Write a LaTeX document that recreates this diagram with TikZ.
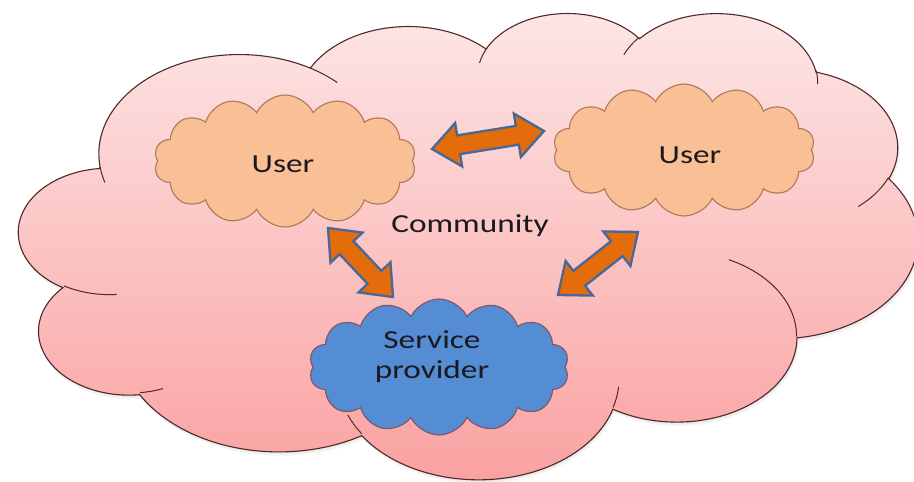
\documentclass[tikz,border=0pt]{standalone}
\usepackage{fontspec}
\setmainfont{Carlito}
\usetikzlibrary{shapes.symbols,calc}
\definecolor{pinktop}{RGB}{253,231,231}
\definecolor{pinkbot}{RGB}{250,160,160}
\definecolor{cloudline}{RGB}{80,40,40}
\definecolor{peach}{RGB}{249,191,149}
\definecolor{peachline}{RGB}{176,120,90}
\definecolor{spblue}{RGB}{84,141,212}
\definecolor{spline}{RGB}{125,85,102}
\definecolor{arrowfill}{RGB}{228,108,10}
\definecolor{arrowline}{RGB}{70,104,154}
\definecolor{txt}{RGB}{26,26,30}
% convert a visual (OOXML) angle to a parametric ellipse angle
\newcommand\ooang[4]{%
  \pgfmathsetmacro\ootmp{atan2((#2)*sin(#4),(#3)*cos(#4))-(#4)}%
  \pgfmathsetmacro\ootmp{\ootmp-360*round(\ootmp/360)}%
  \pgfmathsetmacro#1{(#4)+\ootmp}%
}
\newcommand\oodef[5]{%
  \ooang{\ooS}{#2}{#3}{#4}%
  \expandafter\global\expandafter\let\csname oo#1s\endcsname\ooS
  \ooang{\ooE}{#2}{#3}{(#4)+(#5)}%
  \expandafter\global\expandafter\let\csname oo#1e\endcsname\ooE
}
\oodef{A}{67.53}{91.90}{-190.48748}{123.78053}
\oodef{B}{53.33}{72.67}{-144.10238}{89.94523}
\oodef{C}{43.65}{59.45}{-145.80792}{99.72302}
\oodef{D}{48.57}{65.95}{-130.98607}{117.24173}
\oodef{E}{53.33}{72.73}{-78.70888}{109.02692}
\oodef{F}{67.75}{92.20}{-46.26725}{130.269}
\oodef{G}{57.85}{78.67}{0.62502}{114.03333}
\oodef{H}{67.52}{92.15}{22.4516}{115.17255}
\oodef{I}{77.20}{105.43}{66.24263}{75.71102}
\oodef{J}{43.60}{59.18}{-274.94208}{146.73557}
\oodef{K}{43.45}{59.45}{-246.8285}{152.51885}
\oodef{a}{43.45}{59.45}{86.742}{26.4295}
\oodef{b}{43.60}{59.18}{73.61047}{11.44747}
\oodef{c}{67.52}{92.15}{137.62415}{14.0811}
\oodef{d}{67.52}{92.15}{6.45327}{15.99835}
\oodef{e}{57.85}{78.67}{-70.29235}{70.91737}
\oodef{f}{53.33}{72.73}{30.31803}{27.7515}
\oodef{g}{48.57}{65.95}{-13.74433}{14.8589}
\oodef{h}{48.57}{65.95}{-149.18145}{18.19537}
\oodef{i}{43.65}{59.45}{-163.49427}{17.68635}
\oodef{j}{67.53}{91.90}{-66.70695}{12.31935}
\oodef{k}{67.53}{91.90}{157.65435}{11.85817}
\newcommand\ooarc[3]{arc[start angle=\csname oo#1s\endcsname, end angle=\csname oo#1e\endcsname, x radius=#2, y radius=#3]}
\def\bigcloudpath{(39.00,143.70)
  arc[start angle=\ooAs, end angle=\ooAe, x radius=67.53, y radius=91.90]
  arc[start angle=\ooBs, end angle=\ooBe, x radius=53.33, y radius=72.67]
  arc[start angle=\ooCs, end angle=\ooCe, x radius=43.65, y radius=59.45]
  arc[start angle=\ooDs, end angle=\ooDe, x radius=48.57, y radius=65.95]
  arc[start angle=\ooEs, end angle=\ooEe, x radius=53.33, y radius=72.73]
  arc[start angle=\ooFs, end angle=\ooFe, x radius=67.75, y radius=92.20]
  arc[start angle=\ooGs, end angle=\ooGe, x radius=57.85, y radius=78.67]
  arc[start angle=\ooHs, end angle=\ooHe, x radius=67.52, y radius=92.15]
  arc[start angle=\ooIs, end angle=\ooIe, x radius=77.20, y radius=105.43]
  arc[start angle=\ooJs, end angle=\ooJe, x radius=43.60, y radius=59.18]
  arc[start angle=\ooKs, end angle=\ooKe, x radius=43.45, y radius=59.45] -- cycle}
\def\ahl{27pt}
\def\ahw{22pt}
\def\asw{9.5pt}
\newcommand\blockarrow[2]{%
  \draw[blockarrow] (#1)
    -- ($(#1)!\ahl!(#2)!\ahw!90:(#2)$) -- ($(#1)!\ahl!(#2)!\asw!90:(#2)$)
    -- ($(#2)!\ahl!(#1)!\asw!-90:(#1)$) -- ($(#2)!\ahl!(#1)!\ahw!-90:(#1)$)
    -- (#2)
    -- ($(#2)!\ahl!(#1)!\ahw!90:(#1)$) -- ($(#2)!\ahl!(#1)!\asw!90:(#1)$)
    -- ($(#1)!\ahl!(#2)!\asw!-90:(#2)$) -- ($(#1)!\ahl!(#2)!\ahw!-90:(#2)$)
    -- cycle;}
\begin{document}
\begin{tikzpicture}[x=1pt,y=-1pt,
  community/.style={top color=pinktop, bottom color=pinkbot, draw=cloudline, line width=1.1pt},
  cloudshadow/.style={fill=black, opacity=0.035},
  innerarc/.style={draw=cloudline, line width=1.0pt},
  smallcloud/.style={cloud, cloud puffs=14, cloud puff arc=128, cloud ignores aspect, inner sep=0pt, line width=1.1pt},
  usercloud/.style={smallcloud, fill=peach, draw=peachline, minimum width=262pt, minimum height=132pt},
  spcloud/.style={smallcloud, fill=spblue, draw=spline, minimum width=260pt, minimum height=136pt},
  lbl/.style={font=\fontsize{26}{30}\selectfont, text=txt, xscale=1.28, inner sep=0pt},
  blockarrow/.style={fill=arrowfill, draw=arrowline, line width=2.3pt, line join=miter}]
\useasboundingbox (0,0) rectangle (914,482);
\begin{scope}
\clip (0,0) rectangle (914,482);
% community cloud
\begin{scope}[shift={(19,12)}, x=2.08pt, y=-1.079pt]
  \fill[cloudshadow, xshift=0.5pt, yshift=-1pt] \bigcloudpath;
  \fill[cloudshadow, xshift=1pt, yshift=-2.5pt] \bigcloudpath;
  \fill[cloudshadow, xshift=1.5pt, yshift=-4pt] \bigcloudpath;
  \shadedraw[community] \bigcloudpath;
  \draw[innerarc] (46.93,261.77) \ooarc{a}{43.45}{59.45};
  \draw[innerarc] (69.28,348.99) \ooarc{b}{43.60}{59.18};
  \draw[innerarc] (164.78,390.90) \ooarc{c}{67.52}{92.15};
  \draw[innerarc] (288.27,347.51) \ooarc{d}{67.52}{92.15};
  \draw[innerarc] (341.29,229.54) \ooarc{e}{57.85}{78.67};
  \draw[innerarc] (417.98,153.54) \ooarc{f}{53.33}{72.73};
  \draw[innerarc] (383.24,54.26) \ooarc{g}{48.57}{65.95};
  \draw[innerarc] (290.78,39.52) \ooarc{h}{48.57}{65.95};
  \draw[innerarc] (221.41,47.20) \ooarc{i}{43.65}{59.45};
  \draw[innerarc] (140.00,51.92) \ooarc{j}{67.53}{91.90};
  \draw[innerarc] (41.27,157.89) \ooarc{k}{67.53}{91.90};
\end{scope}
% member clouds
\node[usercloud] (u1) at (285,161) {};
\node[usercloud] (u2) at (684,150) {};
\node[spcloud] (sp) at (439,367) {};
\node[lbl, anchor=base] (tu1) at (283,172) {User};
\node[lbl, anchor=base] (tu2) at (690,163) {User};
\node[lbl, anchor=base] (tcom) at (470,232) {Community};
\node[lbl, align=center] (tsp) at (432,357) {Service\\provider};
% arrows
\coordinate (a1s) at (432,149);
\coordinate (a1e) at (544,131);
\coordinate (a2s) at (328,228);
\coordinate (a2e) at (393,297);
\coordinate (a3s) at (558,295);
\coordinate (a3e) at (638,232);
\blockarrow{a1s}{a1e}
\blockarrow{a2s}{a2e}
\blockarrow{a3s}{a3e}
\end{scope}
\end{tikzpicture}
\end{document}
